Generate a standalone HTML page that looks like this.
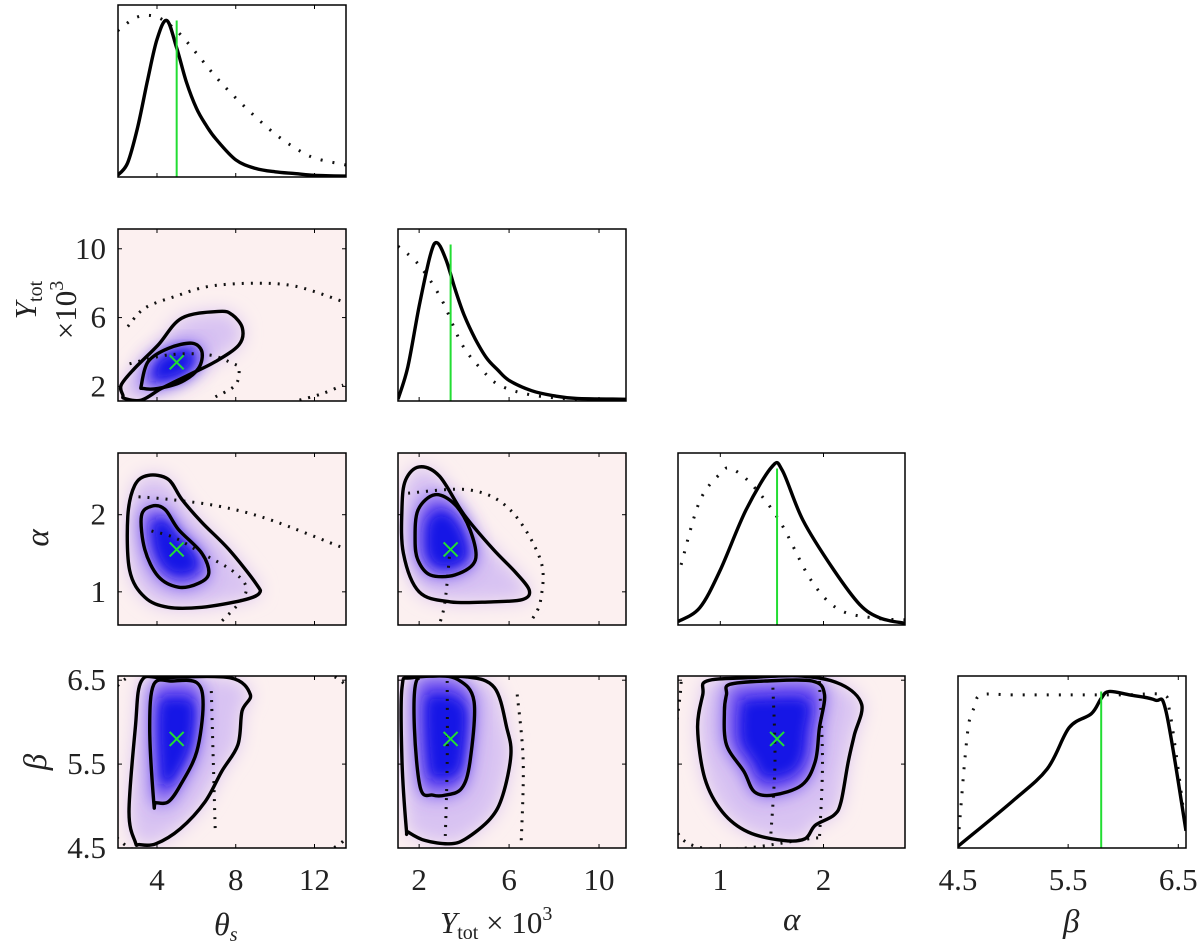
<!DOCTYPE html>
<html><head><meta charset="utf-8"><style>
html,body{margin:0;padding:0;background:#fff;}
svg{display:block;font-family:"Liberation Serif",serif;}
</style></head><body>
<svg id="fig" width="1200" height="946" viewBox="0 0 1200 946">
<defs>
<filter id="b6" x="-30%" y="-30%" width="160%" height="160%"><feGaussianBlur stdDeviation="6"/></filter>
<filter id="b9" x="-30%" y="-30%" width="160%" height="160%"><feGaussianBlur stdDeviation="9"/></filter>
</defs>
<g font-family="Liberation Serif, serif" fill="#222">
<text x="214" y="935" font-size="32" font-style="italic">θ<tspan font-size="20" dy="6">s</tspan></text>
<text x="440" y="933" font-size="31"><tspan font-style="italic">Y</tspan><tspan font-size="20" dy="6">tot</tspan><tspan dy="-6"> × 10</tspan><tspan font-size="20" dy="-13">3</tspan></text>
<text x="783" y="930" font-size="33" font-style="italic">α</text>
<text x="1063" y="932" font-size="33" font-style="italic">β</text>
<text transform="translate(36,300) rotate(-90)" font-size="31" text-anchor="middle"><tspan font-style="italic">Y</tspan><tspan font-size="20" dy="6">tot</tspan></text>
<text transform="translate(76,310) rotate(-90)" font-size="31" text-anchor="middle">×10<tspan font-size="20" dy="-13">3</tspan></text>
<text transform="translate(48,538) rotate(-90)" font-size="33" font-style="italic" text-anchor="middle">α</text>
<text transform="translate(46,762) rotate(-90)" font-size="33" font-style="italic" text-anchor="middle">β</text>
</g>
</svg>
<script>
// ---- data ----
const truthTheta = 5.0, truthY = 3.4, truthAlpha = 1.55, truthBeta = 5.8;
const thetaTicks = [4, 8, 12];
const yTicks = [2, 6, 10];
const alphaTicks = [1, 2];
const betaTicks = [4.5, 5.5, 6.5];
const thetaTickLabels = ["4", "8", "12"];
const yTickLabels = ["2", "6", "10"];
const alphaTickLabels = ["1", "2"];
const betaTickLabels = ["4.5", "5.5", "6.5"];
// 1D marginals
const thetaGrid = [2,2.5,3,3.5,4,4.5,5,5.5,6,6.5,7,8,9,10,11,12,13.6];
const thetaSolid = [0.01,0.08,0.28,0.55,0.8,0.91,0.75,0.55,0.4,0.3,0.22,0.1,0.05,0.03,0.02,0.01,0.005];
const thetaDotGrid = [2,3,4,5,6,7,8,9,10,11,12,13.6];
const thetaDot = [0.85,0.93,0.93,0.85,0.72,0.58,0.46,0.35,0.25,0.17,0.11,0.07];
const yGrid = [1.06,1.5,2,2.5,2.8,3.2,3.6,4,4.5,5,5.5,6,7,8,9,11.2];
const ySolid = [0.01,0.2,0.55,0.85,0.92,0.82,0.65,0.5,0.36,0.25,0.18,0.12,0.06,0.03,0.015,0.01];
const yDotGrid = [1.06,2,3,3.9,4.8,5.6,7,9,11.2];
const yDot = [0.9,0.79,0.59,0.33,0.18,0.09,0.035,0.01,0.005];
const alphaGrid = [0.59,0.8,1.0,1.25,1.5,1.6,1.8,2.1,2.35,2.55,2.79];
const alphaSolid = [0.02,0.1,0.32,0.67,0.92,0.9,0.61,0.32,0.12,0.04,0.01];
const alphaDotGrid = [0.62,0.8,1.0,1.1,1.3,1.58,1.88,2.15,2.5,2.79];
const alphaDot = [0.35,0.72,0.88,0.91,0.82,0.6,0.26,0.09,0.04,0.03];
const betaGrid = [4.5,4.99,5.31,5.51,5.71,5.8,5.87,6.06,6.29,6.39,6.57];
const betaSolid = [0.01,0.27,0.46,0.7,0.78,0.87,0.91,0.89,0.86,0.79,0.1];
const betaDotGrid = [4.51,4.56,4.6,4.65,4.71,5.0,5.5,6.0,6.36,6.42,6.49,6.55];
const betaDot = [0.11,0.5,0.73,0.82,0.89,0.89,0.89,0.89,0.89,0.8,0.5,0.2];
// 2D contours
const tyOuterX = [2.27,2.18,2.87,4.06,5.26,7.14,7.82,8.34,8.16,6.97,5.6,4.23,3.21,2.35];
const tyOuterY = [1.49,2.08,3.05,4.41,5.97,6.36,6.16,5.38,4.41,3.44,2.66,1.88,1.2,1.3];
const tyInnerX = [3.21,3.55,4.57,5.77,6.28,6.11,5.26,4.06,3.29];
const tyInnerY = [2.08,3.44,4.21,4.51,4.02,3.05,2.27,1.88,1.88];
const tyDot1X = [2.52,3.38,4.92,6.63,9.02,11.07,13.46];
const tyDot1Y = [5.48,6.55,7.23,7.81,8.0,7.81,6.93];
const tyDot2X = [6.97,7.99,8.16,7.82,6.63,4.57,2.35];
const tyDot2Y = [1.39,2.08,3.05,3.34,3.83,3.83,3.24];
const tyDot3X = [11.24,12.43,13.46];
const tyDot3Y = [1.2,1.59,2.08];
const taOuterX = [2.61,2.52,2.87,3.55,4.57,5.26,6.28,7.65,9.02,9.19,8.34,6.28,4.57,3.38];
const taOuterY = [1.28,1.98,2.38,2.51,2.46,2.2,1.9,1.55,1.11,0.98,0.89,0.8,0.8,0.93];
const taInnerX = [3.38,3.21,3.72,4.4,5.09,6.28,6.63,6.11,5.09,4.06];
const taInnerY = [1.55,1.98,2.11,2.07,1.81,1.5,1.24,1.11,1.06,1.2];
const taDot1X = [2.61,4.57,7.14,9.68,13.46];
const taDot1Y = [2.24,2.2,2.11,1.94,1.57];
const taDot2X = [3.72,4.91,6.28,7.99,8.5,7.14];
const taDot2Y = [1.79,1.7,1.5,1.24,0.98,0.58];
const tbOuterX = [2.9,2.58,2.9,3.21,4.36,7.7,8.74,8.32,8.11,7.28,6.44,5.19,3.94,3.1];
const tbOuterY = [4.57,4.93,5.93,6.49,6.53,6.53,6.33,6.13,5.73,5.41,5.05,4.73,4.55,4.54];
const tbInnerX = [3.84,3.63,3.84,4.77,6.02,6.34,6.02,5.19,4.57,3.94];
const tbInnerY = [5.04,5.93,6.45,6.49,6.47,6.21,5.65,5.25,5.05,5.04];
const tbDot1X = [6.76,6.86,6.96];
const tbDot1Y = [6.37,5.53,4.69];
const tbDot2X = [2.3,13.3,13.3,2.3];
const tbDot2Y = [4.55,4.55,6.5,6.5];
const yaOuterX = [1.24,1.4,2.0,2.9,4.0,5.3,6.3,6.9,6.6,5.2,3.4,2.0,1.3];
const yaOuterY = [2.1,2.45,2.62,2.5,2.0,1.55,1.25,1.02,0.9,0.87,0.87,1.0,1.5];
const yaInnerX = [1.82,1.95,2.71,3.6,4.27,4.5,3.6,2.49,1.95];
const yaInnerY = [1.67,2.06,2.26,2.13,1.8,1.41,1.22,1.22,1.41];
const yaDot1X = [1.51,4.27,6.06,7.4,7.4,7.0];
const yaDot1Y = [2.28,2.32,2.06,1.41,0.89,0.63];
const yaDot2X = [3.38,3.16,2.94];
const yaDot2Y = [1.57,0.89,0.61];
const ybOuterX = [1.43,1.24,1.24,1.7,4.07,5.35,5.9,6.08,5.72,5.17,4.07,3.34,2.25,1.52];
const ybOuterY = [4.73,5.53,6.41,6.53,6.54,6.41,5.93,5.61,5.13,4.85,4.61,4.55,4.59,4.69];
const ybInnerX = [2.06,1.79,1.88,2.61,3.71,4.44,4.26,3.89,3.16,2.61];
const ybInnerY = [5.21,5.93,6.49,6.55,6.51,6.25,5.53,5.21,5.13,5.13];
const ybDot1X = [3.25,3.25,3.16];
const ybDot1Y = [6.49,5.53,4.61];
const ybDot2X = [6.36,6.63,6.54];
const ybDot2Y = [6.33,5.53,4.57];
const abOuterX = [0.83,0.87,1.27,1.79,2.17,2.37,2.3,2.24,2.17,2.1,1.92,1.82,1.61,1.27,1.02,0.85,0.78];
const abOuterY = [6.33,6.49,6.53,6.55,6.45,6.21,5.85,5.53,5.05,4.89,4.77,4.61,4.59,4.69,4.93,5.33,5.93];
const abInnerX = [1.06,1.09,1.44,1.89,2.01,1.96,1.92,1.79,1.51,1.33,1.23,1.06,1.04];
const abInnerY = [6.33,6.45,6.49,6.49,6.33,5.93,5.53,5.25,5.13,5.17,5.41,5.73,6.13];
const abDot1X = [1.51,1.53,1.49];
const abDot1Y = [6.41,5.53,4.67];
const abDot2X = [1.96,1.99,1.96];
const abDot2Y = [6.49,5.53,4.6];
const abDot3X = [0.62,0.62,1.96];
const abDot3Y = [6.48,4.62,4.62];

// ---- layout ----
const NS = "http://www.w3.org/2000/svg";
const svg = document.getElementById("fig");
const cols = [[118,346],[398,626],[678,905],[958,1186]];
const rows = [[5,177],[229,401],[453,625],[676,848]];
const xdom = [[2.02,13.6],[1.06,11.2],[0.59,2.79],[4.5,6.57]];
const ydom = [null,[1.15,11.15],[0.57,2.8],[4.5,6.55]];
function sx(c,v){const d=xdom[c],p=cols[c];return p[0]+(v-d[0])/(d[1]-d[0])*(p[1]-p[0]);}
function sy(r,v){const d=ydom[r],p=rows[r];return p[1]-(v-d[0])/(d[1]-d[0])*(p[1]-p[0]);}
function sd(r,f){const p=rows[r];return p[1]-f*(p[1]-p[0]);}
function el(tag,attrs,parent){const e=document.createElementNS(NS,tag);for(const k in attrs)e.setAttribute(k,attrs[k]);(parent||svg).appendChild(e);return e;}
function cr(pts,closed){
  const n=pts.length;if(n<2)return "";
  const g=i=>closed?pts[(i+n)%n]:pts[Math.max(0,Math.min(n-1,i))];
  let d="M"+pts[0][0].toFixed(1)+","+pts[0][1].toFixed(1);
  const m=closed?n:n-1;
  for(let i=0;i<m;i++){
    const p0=g(i-1),p1=g(i),p2=g(i+1),p3=g(i+2);
    const c1=[p1[0]+(p2[0]-p0[0])/6,p1[1]+(p2[1]-p0[1])/6];
    const c2=[p2[0]-(p3[0]-p1[0])/6,p2[1]-(p3[1]-p1[1])/6];
    d+="C"+c1[0].toFixed(1)+","+c1[1].toFixed(1)+" "+c2[0].toFixed(1)+","+c2[1].toFixed(1)+" "+p2[0].toFixed(1)+","+p2[1].toFixed(1);
  }
  return d+(closed?"Z":"");
}
const tickSets = [thetaTicks,yTicks,alphaTicks,betaTicks];
const tickLabs = [thetaTickLabels,yTickLabels,alphaTickLabels,betaTickLabels];
const truths = [truthTheta,truthY,truthAlpha,truthBeta];
const names = ["theta","ytot","alpha","beta"];

function frame(r,c,bg){
  const x0=cols[c][0],x1=cols[c][1],y0=rows[r][0],y1=rows[r][1];
  const cp=el("clipPath",{id:"cp"+r+c});
  el("rect",{x:x0,y:y0,width:x1-x0,height:y1-y0},cp);
  const g=el("g",{"clip-path":"url(#cp"+r+c+")"});
  
  
  if(bg){const b=el("rect",{x:x0,y:y0,width:x1-x0,height:y1-y0,fill:"#fcf0f0"},g);
    
    }
  return g;
}
function border(r,c){
  const x0=cols[c][0],x1=cols[c][1],y0=rows[r][0],y1=rows[r][1];
  const b=el("rect",{x:x0,y:y0,width:x1-x0,height:y1-y0,fill:"none",stroke:"#000","stroke-width":1.5});
  
  
  tickSets[c].forEach(v=>{const X=sx(c,v);
    el("line",{x1:X,x2:X,y1:y1,y2:y1-4,stroke:"#000","stroke-width":1});
    el("line",{x1:X,x2:X,y1:y0,y2:y0+4,stroke:"#000","stroke-width":1});});
  if(r>0&&r!==c){tickSets[r].forEach(v=>{const Y=sy(r,v);
    el("line",{x1:x0,x2:x0+4,y1:Y,y2:Y,stroke:"#000","stroke-width":1});
    el("line",{x1:x1,x2:x1-4,y1:Y,y2:Y,stroke:"#000","stroke-width":1});});}
}
function zip(c,r,xs,ys){return xs.map((v,i)=>[sx(c,v),sy(r,ys[i])]);}

function panel2d(r,c,outX,outY,inX,inY,dots){
  const g=frame(r,c,true);
  const outer=zip(c,r,outX,outY), inner=zip(c,r,inX,inY);
  const mx=sx(c,truths[c]), my=sy(r,truths[r]);
  const s1=el("path",{d:cr(outer,true),fill:"#d8c2f2",filter:"url(#b9)"},g);
  
  
  const s2=el("path",{d:cr(inner,true),fill:"#6a4cf0",filter:"url(#b9)"},g);
  
  
  const core=inner.map(p=>[mx+(p[0]-mx)*0.7,my+(p[1]-my)*0.7]);
  const s3=el("path",{d:cr(core,true),fill:"#1818e6",filter:"url(#b6)"},g);
  
  
  dots.forEach(([xs,ys,cl])=>{
    const p=el("path",{d:cr(zip(c,r,xs,ys),cl),fill:"none",stroke:"#111","stroke-width":3,"stroke-dasharray":"2 7"},g);
    
    
  });
  const o=el("path",{d:cr(outer,true),fill:"none",stroke:"#000","stroke-width":3.4},g);
  
  
  const ii=el("path",{d:cr(inner,true),fill:"none",stroke:"#000","stroke-width":3.4},g);
  
  
  const m=el("path",{d:`M${mx-7},${my-7}L${mx+7},${my+7}M${mx-7},${my+7}L${mx+7},${my-7}`,stroke:"#22dd33","stroke-width":2},g);
  
  
  border(r,c);
}
function panel1d(k,grid,solid,dgrid,dot){
  const g=frame(k,k,false);
  const dp=el("path",{d:cr(dgrid.map((v,i)=>[sx(k,v),sd(k,dot[i])]),false),fill:"none",stroke:"#111","stroke-width":3,"stroke-dasharray":"2 10"},g);
  
  
  const sp=el("path",{d:cr(grid.map((v,i)=>[sx(k,v),sd(k,solid[i])]),false),fill:"none",stroke:"#000","stroke-width":3.4},g);
  
  
  const X=sx(k,truths[k]);
  const tl=el("line",{x1:X,x2:X,y1:sd(k,0.91),y2:rows[k][1],stroke:"#22dd33","stroke-width":2},g);
  
  
  border(k,k);
}

panel1d(0,thetaGrid,thetaSolid,thetaDotGrid,thetaDot);
panel1d(1,yGrid,ySolid,yDotGrid,yDot);
panel1d(2,alphaGrid,alphaSolid,alphaDotGrid,alphaDot);
panel1d(3,betaGrid,betaSolid,betaDotGrid,betaDot);
panel2d(1,0,tyOuterX,tyOuterY,tyInnerX,tyInnerY,[[tyDot1X,tyDot1Y,false],[tyDot2X,tyDot2Y,false],[tyDot3X,tyDot3Y,false]]);
panel2d(2,0,taOuterX,taOuterY,taInnerX,taInnerY,[[taDot1X,taDot1Y,false],[taDot2X,taDot2Y,false]]);
panel2d(3,0,tbOuterX,tbOuterY,tbInnerX,tbInnerY,[[tbDot1X,tbDot1Y,false],[tbDot2X,tbDot2Y,true]]);
panel2d(2,1,yaOuterX,yaOuterY,yaInnerX,yaInnerY,[[yaDot1X,yaDot1Y,false],[yaDot2X,yaDot2Y,false]]);
panel2d(3,1,ybOuterX,ybOuterY,ybInnerX,ybInnerY,[[ybDot1X,ybDot1Y,false],[ybDot2X,ybDot2Y,false]]);
panel2d(3,2,abOuterX,abOuterY,abInnerX,abInnerY,[[abDot1X,abDot1Y,false],[abDot2X,abDot2Y,false],[abDot3X,abDot3Y,false]]);

// tick labels
for(let c=0;c<4;c++){tickSets[c].forEach((v,i)=>{
  const t=el("text",{x:sx(c,v),y:890,"font-size":31,"text-anchor":"middle",fill:"#222","font-family":"Liberation Serif, serif"});
  t.textContent=tickLabs[c][i];
  
  });}
for(let r=1;r<4;r++){tickSets[r].forEach((v,i)=>{
  const t=el("text",{x:106,y:sy(r,v)+10,"font-size":31,"text-anchor":"end",fill:"#222","font-family":"Liberation Serif, serif"});
  t.textContent=tickLabs[r][i];
  
  });}
</script>
</body></html>
